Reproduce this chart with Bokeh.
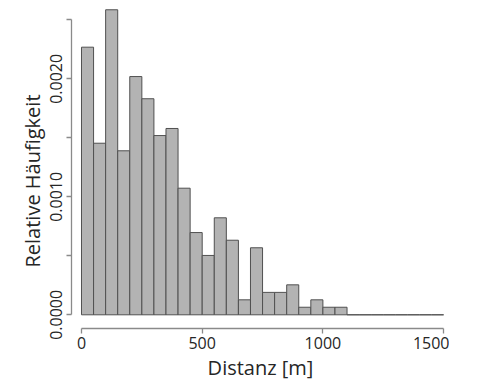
import math
from bokeh.plotting import figure
from bokeh.models import Range1d, FixedTicker, Title, ColumnDataSource, PrintfTickFormatter
from bokeh.embed import file_html
from bokeh.resources import INLINE

# Histogram bins (m) and relative frequency (density)
bin_left = [0, 50, 100, 150, 200, 250, 300, 350, 400, 450, 500, 550, 600, 650, 700,
            750, 800, 850, 900, 950, 1000, 1050, 1100, 1150, 1200, 1250, 1300, 1350, 1400, 1450]
bin_right = [50, 100, 150, 200, 250, 300, 350, 400, 450, 500, 550, 600, 650, 700, 750,
             800, 850, 900, 950, 1000, 1050, 1100, 1150, 1200, 1250, 1300, 1350, 1400, 1450, 1500]
density = [0.002268, 0.001454, 0.002585, 0.001390, 0.002019, 0.001831, 0.001519, 0.001579,
           0.001073, 0.000697, 0.000503, 0.000822, 0.000632, 0.000127, 0.000568, 0.000190,
           0.000190, 0.000254, 0.000064, 0.000127, 0.000064, 0.000064,
           0, 0, 0, 0, 0, 0, 0, 0]

x_ticks = [0, 500, 1000, 1500]
y_ticks = [0.0, 0.001, 0.002]
y_minor = [0.0005, 0.0015, 0.0025]

x_title = "Distanz [m]"
y_title = "Relative Häufigkeit"

FONT = "Open Sans"
AXIS_COL = "#8a8a8a"
TEXT_COL = "#262626"

p = figure(width=449, height=383, output_backend="svg", toolbar_location=None,
           x_range=Range1d(-41.4, 1524.4), y_range=Range1d(-0.0001161, 0.0025958),
           min_border_left=71, min_border_right=0, min_border_top=8, min_border_bottom=55)
p.outline_line_color = None
p.grid.visible = False
p.background_fill_color = "white"
p.border_fill_color = "white"

src = ColumnDataSource(dict(left=bin_left, right=bin_right, top=density,
                            bottom=[0] * len(density)))
p.quad(left="left", right="right", top="top", bottom="bottom", source=src,
       fill_color="#b3b3b3", line_color="#505050", line_width=1)

# x axis
xa = p.xaxis[0]
xa.bounds = (0, 1500)
xa.ticker = FixedTicker(ticks=x_ticks)
xa.axis_line_color = AXIS_COL
xa.axis_line_width = 1.3
xa.major_tick_line_color = AXIS_COL
xa.major_tick_line_width = 1.3
xa.major_tick_in = 0
xa.major_tick_out = 5
xa.minor_tick_line_color = None
xa.major_label_standoff = 3
xa.major_label_text_font = FONT
xa.major_label_text_font_size = "16px"
xa.major_label_text_color = TEXT_COL

# y axis
ya = p.yaxis[0]
ya.bounds = (0, 0.0025)
ya.ticker = FixedTicker(ticks=y_ticks, minor_ticks=y_minor)
ya.formatter = PrintfTickFormatter(format="%.4f")
ya.axis_line_color = AXIS_COL
ya.axis_line_width = 1.3
ya.major_tick_line_color = AXIS_COL
ya.major_tick_line_width = 1.3
ya.major_tick_in = 0
ya.major_tick_out = 5
ya.minor_tick_line_color = AXIS_COL
ya.minor_tick_line_width = 1.3
ya.minor_tick_in = 0
ya.minor_tick_out = 5
ya.major_label_orientation = "vertical"
ya.major_label_standoff = 4
ya.major_label_text_font = FONT
ya.major_label_text_font_size = "16px"
ya.major_label_text_color = TEXT_COL

p.add_layout(Title(text=x_title, align="center", text_font=FONT, text_font_size="20px",
                   text_font_style="normal", text_color=TEXT_COL, standoff=0), "below")
p.add_layout(Title(text=y_title, align="left", offset=61, text_font=FONT,
                   text_font_size="20px", text_font_style="normal", text_color=TEXT_COL,
                   standoff=3), "left")

open("out.html", "w").write(file_html(p, INLINE))
